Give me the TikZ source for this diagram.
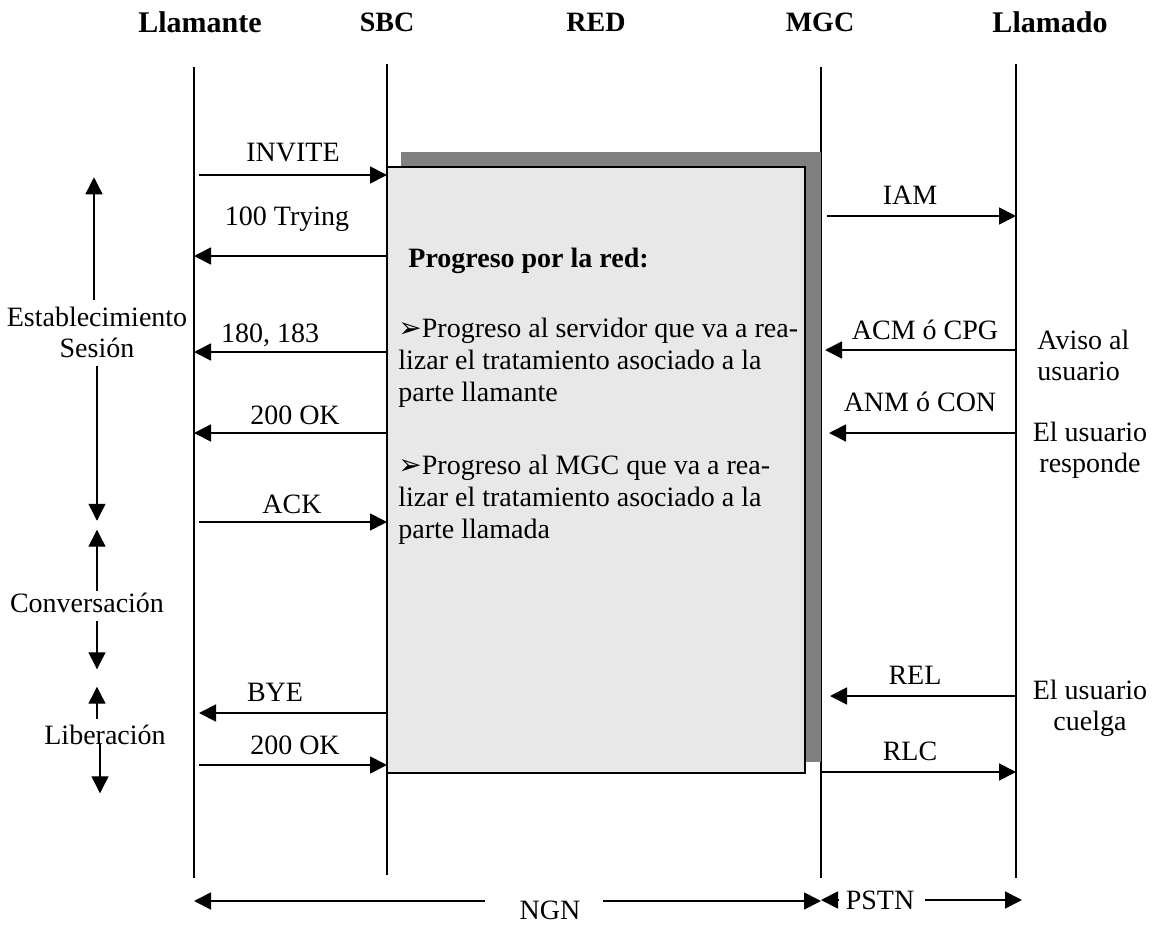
\documentclass[tikz,border=0pt]{standalone}
\usepackage{fontspec}
\setmainfont{Liberation Serif}
\newfontfamily\dingfont{DejaVu Sans}
\usetikzlibrary{arrows.meta, positioning}

\begin{document}
\begin{tikzpicture}[x=0.5pt, y=-0.5pt,
		actor/.style={font=\fontsize{15}{18}\selectfont\bfseries, inner sep=0pt},
		entity/.style={font=\fontsize{14}{17}\selectfont\bfseries, inner sep=0pt},
		lifeline/.style={line width=0.65pt},
		msg/.style={-{Triangle[length=8.5pt, width=8.5pt]}, line width=0.9pt},
		lbl/.style={font=\fontsize{14}{16}\selectfont, inner sep=0pt},
		note/.style={font=\fontsize{14}{15.5}\selectfont, align=center, inner sep=0pt},
		boxtext/.style={font=\fontsize{14}{16}\selectfont, align=left, inner sep=0pt, anchor=north west},
		phase/.style={-{Triangle[length=8.5pt, width=8.5pt]}, line width=0.7pt}
		]
		\useasboundingbox (0,0) rectangle (1153,927);
		
		% cabeceras
		\node [actor] (llamante) at (200,22) {Llamante};
		\node [entity] (sbc) at (387,22) {SBC};
		\node [entity] (red) at (596,22) {RED};
		\node [entity] (mgc) at (820,22) {MGC};
		\node [actor] (llamado) at (1050,22) {Llamado};
		
		\coordinate (la) at (194,0);
		\coordinate (sb) at (387,0);
		\coordinate (mg) at (821,0);
		\coordinate (lo) at (1016,0);
		
		\draw [lifeline] (la |- 0,67) -- (la |- 0,878);
		\draw [lifeline] (sb |- 0,64) -- (sb |- 0,875);
		\draw [lifeline] (mg |- 0,67) -- (mg |- 0,878);
		\draw [lifeline] (lo |- 0,64) -- (lo |- 0,878);
		
		% caja de la red
		\fill [black!50] (401,152) rectangle (821,762);
		\draw [fill=black!9, line width=0.65pt] (387,167) rectangle (805,773);
		\node [boxtext, font=\fontsize{14}{16}\selectfont\bfseries] (titulo) at (408,248) {Progreso por la red:};
		\node [boxtext] (punto1) at (398,318) {{\dingfont ➢}Progreso al servidor que va a rea-\\lizar el tratamiento asociado a la\\parte llamante};
		\node [boxtext] (punto2) at (398,455) {{\dingfont ➢}Progreso al MGC que va a rea-\\lizar el tratamiento asociado a la\\parte llamada};
		
		% mensajes SIP
		\draw [msg, shorten <=2.5pt] (la |- 0,175) -- (sb |- 0,175);
		\node [lbl] (invite) at (293,153) {INVITE};
		\draw [msg] (sb |- 0,256) -- (la |- 0,256);
		\node [lbl] (trying) at (287,219) {100 Trying};
		\draw [msg] (sb |- 0,352) -- (la |- 0,352);
		\node [lbl] (ringing) at (270,335) {180, 183};
		\draw [msg] (sb |- 0,433) -- (la |- 0,433);
		\node [lbl] (ok1) at (295,415) {200 OK};
		\draw [msg, shorten <=2.5pt] (la |- 0,522) -- (sb |- 0,522);
		\node [lbl] (ack) at (292,504) {ACK};
		\draw [msg, shorten >=2.5pt] (sb |- 0,713) -- (la |- 0,713);
		\node [lbl] (bye) at (275,692) {BYE};
		\draw [msg, shorten <=2.5pt] (la |- 0,765) -- (sb |- 0,765);
		\node [lbl] (ok2) at (295,745) {200 OK};
		
		% mensajes RDSI
		\draw [msg, shorten <=3pt] (mg |- 0,216) -- (lo |- 0,216);
		\node [lbl] (iam) at (910,195) {IAM};
		\draw [msg, shorten >=2pt] (lo |- 0,350) -- (mg |- 0,350);
		\node [lbl] (acm) at (925,330) {ACM ó CPG};
		\draw [msg, shorten >=4pt] (lo |- 0,433) -- (mg |- 0,433);
		\node [lbl] (anm) at (920,402) {ANM ó CON};
		\draw [msg, shorten >=4.5pt] (lo |- 0,696) -- (mg |- 0,696);
		\node [lbl] (rel) at (915,675) {REL};
		\draw [msg] (mg |- 0,772) -- (lo |- 0,772);
		\node [lbl] (rlc) at (910,751) {RLC};
		
		% notas del usuario
		\node [note, align=left, anchor=west] (aviso) at (1037,355) {Aviso al\\usuario};
		\node [note] (responde) at (1090,450) {El usuario\\responde};
		\node [note] (cuelga) at (1090,708) {El usuario\\cuelga};
		
		% fases
		\node [note] (estab) at (97,332) {Establecimiento\\Sesión};
		\draw [phase] ([xshift=-1.5pt, yshift=3pt]estab.north) -- ++(0,-123);
		\draw [phase] ([yshift=-4pt]estab.south) -- ++(0,155);
		\node [note] (conv) at (87,603) {Conversación};
		\draw [phase] ([xshift=5pt]conv.north) ++(0,-2) -- ++(0,-61);
		\draw [phase] ([xshift=5pt]conv.south) ++(0,8) -- ++(0,48);
		\node [note] (liber) at (105,735) {Liberación};
		\draw [phase] ([xshift=-4pt]liber.north) ++(0,-6) -- ++(0,-32);
		\draw [phase] ([xshift=-2.5pt]liber.south) ++(0,-1) -- ++(0,49);
		
		% redes
		\node [lbl] (ngn) at (550,910) {NGN};
		\draw [msg] (485,901) -- (la |- 0,901);
		\draw [msg] (603,901) -- (mg |- 0,901);
		\node [lbl] (pstn) at (880,900) {PSTN};
		\draw [msg] (pstn.west) ++(-6,0) -- (mg |- 0,900);
		\draw [msg] (pstn.east) ++(10,0) -- (1022,900);
	\end{tikzpicture}
\end{document}
